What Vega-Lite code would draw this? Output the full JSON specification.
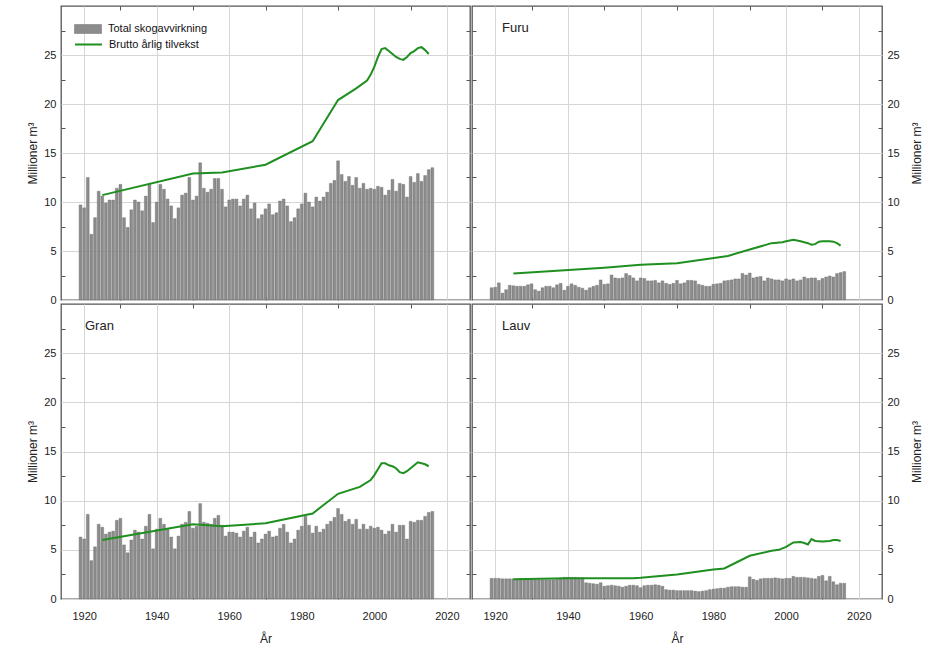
{
"$schema": "https://vega.github.io/schema/vega-lite/v6.json",
"padding": {"left": 26, "top": 4, "right": 4, "bottom": 4},
"config": {
 "font": "Liberation Sans",
 "view": {"stroke": "#555555", "strokeWidth": 1.3},
 "axis": {"labelFont": "Liberation Sans", "labelFontSize": 11, "labelColor": "#222222", "titleFont": "Liberation Sans", "titleFontSize": 12, "titleFontWeight": "normal", "titleColor": "#222222", "gridColor": "#d6d6d6", "gridWidth": 1, "domain": false, "ticks": true, "tickSize": -4, "tickColor": "#555555", "tickWidth": 1},
 "title": {"font": "Liberation Sans", "fontSize": 13, "fontWeight": "normal", "color": "#222222", "anchor": "start", "frame": "group", "baseline": "middle", "offset": -29}
},
"datasets": {
"bars": [
{"s":"Total","year":1919,"v":9.7},{"s":"Total","year":1920,"v":9.4},{"s":"Total","year":1921,"v":12.5},{"s":"Total","year":1922,"v":6.7},{"s":"Total","year":1923,"v":8.4},{"s":"Total","year":1924,"v":11.1},{"s":"Total","year":1925,"v":10.6},{"s":"Total","year":1926,"v":9.9},{"s":"Total","year":1927,"v":10.2},{"s":"Total","year":1928,"v":10.2},{"s":"Total","year":1929,"v":11.4},{"s":"Total","year":1930,"v":11.8},{"s":"Total","year":1931,"v":8.4},{"s":"Total","year":1932,"v":7.4},{"s":"Total","year":1933,"v":9.2},{"s":"Total","year":1934,"v":10.2},{"s":"Total","year":1935,"v":10.0},{"s":"Total","year":1936,"v":9.1},{"s":"Total","year":1937,"v":10.6},{"s":"Total","year":1938,"v":11.9},{"s":"Total","year":1939,"v":7.9},{"s":"Total","year":1940,"v":10.0},{"s":"Total","year":1941,"v":11.8},{"s":"Total","year":1942,"v":11.3},{"s":"Total","year":1943,"v":10.3},{"s":"Total","year":1944,"v":9.6},{"s":"Total","year":1945,"v":8.3},{"s":"Total","year":1946,"v":9.4},{"s":"Total","year":1947,"v":10.7},{"s":"Total","year":1948,"v":10.9},{"s":"Total","year":1949,"v":12.5},{"s":"Total","year":1950,"v":10.2},{"s":"Total","year":1951,"v":10.6},{"s":"Total","year":1952,"v":14.0},{"s":"Total","year":1953,"v":11.4},{"s":"Total","year":1954,"v":11.0},{"s":"Total","year":1955,"v":11.3},{"s":"Total","year":1956,"v":12.4},{"s":"Total","year":1957,"v":12.4},{"s":"Total","year":1958,"v":11.3},{"s":"Total","year":1959,"v":9.5},{"s":"Total","year":1960,"v":10.2},{"s":"Total","year":1961,"v":10.3},{"s":"Total","year":1962,"v":10.3},{"s":"Total","year":1963,"v":9.6},{"s":"Total","year":1964,"v":10.3},{"s":"Total","year":1965,"v":10.7},{"s":"Total","year":1966,"v":9.3},{"s":"Total","year":1967,"v":9.9},{"s":"Total","year":1968,"v":8.3},{"s":"Total","year":1969,"v":8.7},{"s":"Total","year":1970,"v":9.3},{"s":"Total","year":1971,"v":9.8},{"s":"Total","year":1972,"v":8.7},{"s":"Total","year":1973,"v":8.9},{"s":"Total","year":1974,"v":10.1},{"s":"Total","year":1975,"v":10.3},{"s":"Total","year":1976,"v":9.6},{"s":"Total","year":1977,"v":8.0},{"s":"Total","year":1978,"v":8.4},{"s":"Total","year":1979,"v":9.3},{"s":"Total","year":1980,"v":9.8},{"s":"Total","year":1981,"v":10.9},{"s":"Total","year":1982,"v":10.0},{"s":"Total","year":1983,"v":9.5},{"s":"Total","year":1984,"v":10.5},{"s":"Total","year":1985,"v":10.1},{"s":"Total","year":1986,"v":10.5},{"s":"Total","year":1987,"v":11.0},{"s":"Total","year":1988,"v":11.9},{"s":"Total","year":1989,"v":12.2},{"s":"Total","year":1990,"v":14.2},{"s":"Total","year":1991,"v":12.8},{"s":"Total","year":1992,"v":12.1},{"s":"Total","year":1993,"v":12.6},{"s":"Total","year":1994,"v":11.7},{"s":"Total","year":1995,"v":12.5},{"s":"Total","year":1996,"v":11.4},{"s":"Total","year":1997,"v":11.9},{"s":"Total","year":1998,"v":11.3},{"s":"Total","year":1999,"v":11.4},{"s":"Total","year":2000,"v":11.3},{"s":"Total","year":2001,"v":11.6},{"s":"Total","year":2002,"v":11.5},{"s":"Total","year":2003,"v":10.7},{"s":"Total","year":2004,"v":11.2},{"s":"Total","year":2005,"v":12.3},{"s":"Total","year":2006,"v":11.1},{"s":"Total","year":2007,"v":11.9},{"s":"Total","year":2008,"v":11.8},{"s":"Total","year":2009,"v":10.5},{"s":"Total","year":2010,"v":12.6},{"s":"Total","year":2011,"v":12.0},{"s":"Total","year":2012,"v":12.9},{"s":"Total","year":2013,"v":12.1},{"s":"Total","year":2014,"v":12.7},{"s":"Total","year":2015,"v":13.3},{"s":"Total","year":2016,"v":13.5},
{"s":"Gran","year":1919,"v":6.3},{"s":"Gran","year":1920,"v":6.1},{"s":"Gran","year":1921,"v":8.6},{"s":"Gran","year":1922,"v":3.9},{"s":"Gran","year":1923,"v":5.3},{"s":"Gran","year":1924,"v":7.6},{"s":"Gran","year":1925,"v":7.3},{"s":"Gran","year":1926,"v":6.6},{"s":"Gran","year":1927,"v":6.8},{"s":"Gran","year":1928,"v":6.9},{"s":"Gran","year":1929,"v":8.0},{"s":"Gran","year":1930,"v":8.2},{"s":"Gran","year":1931,"v":5.5},{"s":"Gran","year":1932,"v":4.7},{"s":"Gran","year":1933,"v":6.0},{"s":"Gran","year":1934,"v":7.0},{"s":"Gran","year":1935,"v":6.8},{"s":"Gran","year":1936,"v":6.1},{"s":"Gran","year":1937,"v":7.4},{"s":"Gran","year":1938,"v":8.6},{"s":"Gran","year":1939,"v":5.1},{"s":"Gran","year":1940,"v":7.1},{"s":"Gran","year":1941,"v":8.2},{"s":"Gran","year":1942,"v":7.6},{"s":"Gran","year":1943,"v":7.1},{"s":"Gran","year":1944,"v":6.3},{"s":"Gran","year":1945,"v":5.1},{"s":"Gran","year":1946,"v":6.4},{"s":"Gran","year":1947,"v":7.6},{"s":"Gran","year":1948,"v":7.8},{"s":"Gran","year":1949,"v":8.9},{"s":"Gran","year":1950,"v":7.2},{"s":"Gran","year":1951,"v":7.4},{"s":"Gran","year":1952,"v":9.7},{"s":"Gran","year":1953,"v":7.8},{"s":"Gran","year":1954,"v":7.7},{"s":"Gran","year":1955,"v":7.6},{"s":"Gran","year":1956,"v":8.2},{"s":"Gran","year":1957,"v":8.5},{"s":"Gran","year":1958,"v":7.5},{"s":"Gran","year":1959,"v":6.4},{"s":"Gran","year":1960,"v":6.8},{"s":"Gran","year":1961,"v":6.8},{"s":"Gran","year":1962,"v":6.7},{"s":"Gran","year":1963,"v":6.3},{"s":"Gran","year":1964,"v":6.9},{"s":"Gran","year":1965,"v":7.3},{"s":"Gran","year":1966,"v":6.3},{"s":"Gran","year":1967,"v":6.8},{"s":"Gran","year":1968,"v":5.7},{"s":"Gran","year":1969,"v":6.1},{"s":"Gran","year":1970,"v":6.6},{"s":"Gran","year":1971,"v":6.9},{"s":"Gran","year":1972,"v":6.3},{"s":"Gran","year":1973,"v":6.4},{"s":"Gran","year":1974,"v":7.2},{"s":"Gran","year":1975,"v":7.6},{"s":"Gran","year":1976,"v":6.8},{"s":"Gran","year":1977,"v":5.7},{"s":"Gran","year":1978,"v":6.1},{"s":"Gran","year":1979,"v":7.0},{"s":"Gran","year":1980,"v":7.4},{"s":"Gran","year":1981,"v":8.4},{"s":"Gran","year":1982,"v":7.5},{"s":"Gran","year":1983,"v":6.7},{"s":"Gran","year":1984,"v":7.4},{"s":"Gran","year":1985,"v":6.8},{"s":"Gran","year":1986,"v":7.1},{"s":"Gran","year":1987,"v":7.6},{"s":"Gran","year":1988,"v":7.9},{"s":"Gran","year":1989,"v":8.3},{"s":"Gran","year":1990,"v":9.2},{"s":"Gran","year":1991,"v":8.6},{"s":"Gran","year":1992,"v":7.9},{"s":"Gran","year":1993,"v":8.1},{"s":"Gran","year":1994,"v":7.6},{"s":"Gran","year":1995,"v":8.1},{"s":"Gran","year":1996,"v":7.1},{"s":"Gran","year":1997,"v":7.6},{"s":"Gran","year":1998,"v":7.1},{"s":"Gran","year":1999,"v":7.4},{"s":"Gran","year":2000,"v":7.2},{"s":"Gran","year":2001,"v":7.3},{"s":"Gran","year":2002,"v":7.0},{"s":"Gran","year":2003,"v":6.6},{"s":"Gran","year":2004,"v":6.9},{"s":"Gran","year":2005,"v":7.6},{"s":"Gran","year":2006,"v":6.8},{"s":"Gran","year":2007,"v":7.5},{"s":"Gran","year":2008,"v":7.5},{"s":"Gran","year":2009,"v":6.1},{"s":"Gran","year":2010,"v":7.9},{"s":"Gran","year":2011,"v":7.8},{"s":"Gran","year":2012,"v":8.0},{"s":"Gran","year":2013,"v":8.0},{"s":"Gran","year":2014,"v":8.4},{"s":"Gran","year":2015,"v":8.8},{"s":"Gran","year":2016,"v":8.9},
{"s":"Furu","year":1919,"v":1.25},{"s":"Furu","year":1920,"v":1.3},{"s":"Furu","year":1921,"v":1.75},{"s":"Furu","year":1922,"v":0.7},{"s":"Furu","year":1923,"v":1.05},{"s":"Furu","year":1924,"v":1.5},{"s":"Furu","year":1925,"v":1.45},{"s":"Furu","year":1926,"v":1.4},{"s":"Furu","year":1927,"v":1.4},{"s":"Furu","year":1928,"v":1.4},{"s":"Furu","year":1929,"v":1.55},{"s":"Furu","year":1930,"v":1.65},{"s":"Furu","year":1931,"v":1.05},{"s":"Furu","year":1932,"v":0.9},{"s":"Furu","year":1933,"v":1.25},{"s":"Furu","year":1934,"v":1.4},{"s":"Furu","year":1935,"v":1.4},{"s":"Furu","year":1936,"v":1.25},{"s":"Furu","year":1937,"v":1.55},{"s":"Furu","year":1938,"v":1.7},{"s":"Furu","year":1939,"v":1.0},{"s":"Furu","year":1940,"v":1.4},{"s":"Furu","year":1941,"v":1.65},{"s":"Furu","year":1942,"v":1.5},{"s":"Furu","year":1943,"v":1.3},{"s":"Furu","year":1944,"v":1.2},{"s":"Furu","year":1945,"v":1.0},{"s":"Furu","year":1946,"v":1.25},{"s":"Furu","year":1947,"v":1.4},{"s":"Furu","year":1948,"v":1.5},{"s":"Furu","year":1949,"v":2.05},{"s":"Furu","year":1950,"v":1.6},{"s":"Furu","year":1951,"v":1.65},{"s":"Furu","year":1952,"v":2.55},{"s":"Furu","year":1953,"v":2.25},{"s":"Furu","year":1954,"v":2.2},{"s":"Furu","year":1955,"v":2.25},{"s":"Furu","year":1956,"v":2.7},{"s":"Furu","year":1957,"v":2.5},{"s":"Furu","year":1958,"v":2.25},{"s":"Furu","year":1959,"v":1.95},{"s":"Furu","year":1960,"v":2.25},{"s":"Furu","year":1961,"v":2.2},{"s":"Furu","year":1962,"v":1.95},{"s":"Furu","year":1963,"v":1.95},{"s":"Furu","year":1964,"v":2.0},{"s":"Furu","year":1965,"v":1.75},{"s":"Furu","year":1966,"v":1.95},{"s":"Furu","year":1967,"v":1.7},{"s":"Furu","year":1968,"v":1.6},{"s":"Furu","year":1969,"v":1.7},{"s":"Furu","year":1970,"v":2.0},{"s":"Furu","year":1971,"v":1.65},{"s":"Furu","year":1972,"v":1.75},{"s":"Furu","year":1973,"v":2.0},{"s":"Furu","year":1974,"v":2.0},{"s":"Furu","year":1975,"v":1.95},{"s":"Furu","year":1976,"v":1.6},{"s":"Furu","year":1977,"v":1.5},{"s":"Furu","year":1978,"v":1.4},{"s":"Furu","year":1979,"v":1.4},{"s":"Furu","year":1980,"v":1.6},{"s":"Furu","year":1981,"v":1.65},{"s":"Furu","year":1982,"v":1.7},{"s":"Furu","year":1983,"v":1.95},{"s":"Furu","year":1984,"v":2.0},{"s":"Furu","year":1985,"v":2.05},{"s":"Furu","year":1986,"v":2.15},{"s":"Furu","year":1987,"v":2.15},{"s":"Furu","year":1988,"v":2.7},{"s":"Furu","year":1989,"v":2.55},{"s":"Furu","year":1990,"v":2.75},{"s":"Furu","year":1991,"v":2.25},{"s":"Furu","year":1992,"v":2.35},{"s":"Furu","year":1993,"v":2.4},{"s":"Furu","year":1994,"v":1.95},{"s":"Furu","year":1995,"v":2.25},{"s":"Furu","year":1996,"v":2.15},{"s":"Furu","year":1997,"v":2.05},{"s":"Furu","year":1998,"v":2.05},{"s":"Furu","year":1999,"v":1.95},{"s":"Furu","year":2000,"v":2.15},{"s":"Furu","year":2001,"v":2.05},{"s":"Furu","year":2002,"v":2.15},{"s":"Furu","year":2003,"v":1.95},{"s":"Furu","year":2004,"v":2.05},{"s":"Furu","year":2005,"v":2.35},{"s":"Furu","year":2006,"v":2.2},{"s":"Furu","year":2007,"v":2.25},{"s":"Furu","year":2008,"v":2.25},{"s":"Furu","year":2009,"v":2.0},{"s":"Furu","year":2010,"v":2.2},{"s":"Furu","year":2011,"v":2.35},{"s":"Furu","year":2012,"v":2.45},{"s":"Furu","year":2013,"v":2.35},{"s":"Furu","year":2014,"v":2.7},{"s":"Furu","year":2015,"v":2.8},{"s":"Furu","year":2016,"v":2.9},
{"s":"Lauv","year":1919,"v":2.1},{"s":"Lauv","year":1920,"v":2.1},{"s":"Lauv","year":1921,"v":2.1},{"s":"Lauv","year":1922,"v":2.05},{"s":"Lauv","year":1923,"v":2.05},{"s":"Lauv","year":1924,"v":2.05},{"s":"Lauv","year":1925,"v":2.05},{"s":"Lauv","year":1926,"v":2.0},{"s":"Lauv","year":1927,"v":2.0},{"s":"Lauv","year":1928,"v":2.0},{"s":"Lauv","year":1929,"v":2.0},{"s":"Lauv","year":1930,"v":2.0},{"s":"Lauv","year":1931,"v":1.95},{"s":"Lauv","year":1932,"v":1.95},{"s":"Lauv","year":1933,"v":1.95},{"s":"Lauv","year":1934,"v":1.95},{"s":"Lauv","year":1935,"v":1.95},{"s":"Lauv","year":1936,"v":1.95},{"s":"Lauv","year":1937,"v":2.0},{"s":"Lauv","year":1938,"v":2.15},{"s":"Lauv","year":1939,"v":2.2},{"s":"Lauv","year":1940,"v":2.2},{"s":"Lauv","year":1941,"v":2.2},{"s":"Lauv","year":1942,"v":2.2},{"s":"Lauv","year":1943,"v":2.15},{"s":"Lauv","year":1944,"v":2.15},{"s":"Lauv","year":1945,"v":1.65},{"s":"Lauv","year":1946,"v":1.6},{"s":"Lauv","year":1947,"v":1.55},{"s":"Lauv","year":1948,"v":1.5},{"s":"Lauv","year":1949,"v":1.65},{"s":"Lauv","year":1950,"v":1.3},{"s":"Lauv","year":1951,"v":1.35},{"s":"Lauv","year":1952,"v":1.4},{"s":"Lauv","year":1953,"v":1.35},{"s":"Lauv","year":1954,"v":1.3},{"s":"Lauv","year":1955,"v":1.2},{"s":"Lauv","year":1956,"v":1.3},{"s":"Lauv","year":1957,"v":1.4},{"s":"Lauv","year":1958,"v":1.4},{"s":"Lauv","year":1959,"v":1.35},{"s":"Lauv","year":1960,"v":1.15},{"s":"Lauv","year":1961,"v":1.35},{"s":"Lauv","year":1962,"v":1.4},{"s":"Lauv","year":1963,"v":1.4},{"s":"Lauv","year":1964,"v":1.45},{"s":"Lauv","year":1965,"v":1.4},{"s":"Lauv","year":1966,"v":1.3},{"s":"Lauv","year":1967,"v":0.95},{"s":"Lauv","year":1968,"v":0.9},{"s":"Lauv","year":1969,"v":0.9},{"s":"Lauv","year":1970,"v":0.85},{"s":"Lauv","year":1971,"v":0.85},{"s":"Lauv","year":1972,"v":0.85},{"s":"Lauv","year":1973,"v":0.85},{"s":"Lauv","year":1974,"v":0.85},{"s":"Lauv","year":1975,"v":0.8},{"s":"Lauv","year":1976,"v":0.75},{"s":"Lauv","year":1977,"v":0.8},{"s":"Lauv","year":1978,"v":0.85},{"s":"Lauv","year":1979,"v":0.95},{"s":"Lauv","year":1980,"v":1.0},{"s":"Lauv","year":1981,"v":1.05},{"s":"Lauv","year":1982,"v":1.1},{"s":"Lauv","year":1983,"v":1.1},{"s":"Lauv","year":1984,"v":1.2},{"s":"Lauv","year":1985,"v":1.25},{"s":"Lauv","year":1986,"v":1.25},{"s":"Lauv","year":1987,"v":1.25},{"s":"Lauv","year":1988,"v":1.2},{"s":"Lauv","year":1989,"v":1.2},{"s":"Lauv","year":1990,"v":2.25},{"s":"Lauv","year":1991,"v":2.0},{"s":"Lauv","year":1992,"v":1.9},{"s":"Lauv","year":1993,"v":2.05},{"s":"Lauv","year":1994,"v":2.1},{"s":"Lauv","year":1995,"v":2.1},{"s":"Lauv","year":1996,"v":2.1},{"s":"Lauv","year":1997,"v":2.15},{"s":"Lauv","year":1998,"v":2.1},{"s":"Lauv","year":1999,"v":2.05},{"s":"Lauv","year":2000,"v":2.1},{"s":"Lauv","year":2001,"v":2.1},{"s":"Lauv","year":2002,"v":2.3},{"s":"Lauv","year":2003,"v":2.2},{"s":"Lauv","year":2004,"v":2.2},{"s":"Lauv","year":2005,"v":2.2},{"s":"Lauv","year":2006,"v":2.15},{"s":"Lauv","year":2007,"v":2.1},{"s":"Lauv","year":2008,"v":2.05},{"s":"Lauv","year":2009,"v":2.3},{"s":"Lauv","year":2010,"v":2.4},{"s":"Lauv","year":2011,"v":1.85},{"s":"Lauv","year":2012,"v":2.3},{"s":"Lauv","year":2013,"v":1.75},{"s":"Lauv","year":2014,"v":1.45},{"s":"Lauv","year":2015,"v":1.6},{"s":"Lauv","year":2016,"v":1.6}
],
"lines": [
{"s":"Total","year":1925,"v":10.7},{"s":"Total","year":1950,"v":12.9},{"s":"Total","year":1958,"v":13.0},{"s":"Total","year":1970,"v":13.8},{"s":"Total","year":1983,"v":16.2},{"s":"Total","year":1990,"v":20.4},{"s":"Total","year":1995,"v":21.6},{"s":"Total","year":1998,"v":22.4},{"s":"Total","year":1999,"v":23.0},{"s":"Total","year":2000,"v":23.8},{"s":"Total","year":2001,"v":24.8},{"s":"Total","year":2002,"v":25.6},{"s":"Total","year":2003,"v":25.7},{"s":"Total","year":2004,"v":25.4},{"s":"Total","year":2005,"v":25.1},{"s":"Total","year":2006,"v":24.8},{"s":"Total","year":2007,"v":24.6},{"s":"Total","year":2008,"v":24.5},{"s":"Total","year":2009,"v":24.8},{"s":"Total","year":2010,"v":25.2},{"s":"Total","year":2011,"v":25.4},{"s":"Total","year":2012,"v":25.7},{"s":"Total","year":2013,"v":25.8},{"s":"Total","year":2014,"v":25.5},{"s":"Total","year":2015,"v":25.1},
{"s":"Gran","year":1925,"v":6.0},{"s":"Gran","year":1950,"v":7.6},{"s":"Gran","year":1958,"v":7.4},{"s":"Gran","year":1970,"v":7.7},{"s":"Gran","year":1983,"v":8.7},{"s":"Gran","year":1990,"v":10.7},{"s":"Gran","year":1996,"v":11.4},{"s":"Gran","year":1999,"v":12.1},{"s":"Gran","year":2000,"v":12.6},{"s":"Gran","year":2001,"v":13.2},{"s":"Gran","year":2002,"v":13.8},{"s":"Gran","year":2003,"v":13.8},{"s":"Gran","year":2004,"v":13.6},{"s":"Gran","year":2005,"v":13.5},{"s":"Gran","year":2006,"v":13.3},{"s":"Gran","year":2007,"v":12.9},{"s":"Gran","year":2008,"v":12.8},{"s":"Gran","year":2009,"v":13.0},{"s":"Gran","year":2010,"v":13.3},{"s":"Gran","year":2011,"v":13.6},{"s":"Gran","year":2012,"v":13.9},{"s":"Gran","year":2013,"v":13.8},{"s":"Gran","year":2014,"v":13.7},{"s":"Gran","year":2015,"v":13.5},
{"s":"Furu","year":1925,"v":2.7},{"s":"Furu","year":1950,"v":3.3},{"s":"Furu","year":1960,"v":3.6},{"s":"Furu","year":1970,"v":3.75},{"s":"Furu","year":1984,"v":4.5},{"s":"Furu","year":1990,"v":5.15},{"s":"Furu","year":1996,"v":5.8},{"s":"Furu","year":1999,"v":5.9},{"s":"Furu","year":2000,"v":6.0},{"s":"Furu","year":2002,"v":6.15},{"s":"Furu","year":2004,"v":6.0},{"s":"Furu","year":2006,"v":5.8},{"s":"Furu","year":2007,"v":5.65},{"s":"Furu","year":2008,"v":5.7},{"s":"Furu","year":2009,"v":5.95},{"s":"Furu","year":2010,"v":6.0},{"s":"Furu","year":2012,"v":6.0},{"s":"Furu","year":2013,"v":5.95},{"s":"Furu","year":2014,"v":5.8},{"s":"Furu","year":2015,"v":5.55},
{"s":"Lauv","year":1925,"v":2.0},{"s":"Lauv","year":1940,"v":2.1},{"s":"Lauv","year":1958,"v":2.1},{"s":"Lauv","year":1960,"v":2.15},{"s":"Lauv","year":1970,"v":2.5},{"s":"Lauv","year":1980,"v":3.0},{"s":"Lauv","year":1983,"v":3.1},{"s":"Lauv","year":1990,"v":4.4},{"s":"Lauv","year":1996,"v":4.9},{"s":"Lauv","year":1998,"v":5.0},{"s":"Lauv","year":2000,"v":5.3},{"s":"Lauv","year":2002,"v":5.75},{"s":"Lauv","year":2004,"v":5.8},{"s":"Lauv","year":2005,"v":5.7},{"s":"Lauv","year":2006,"v":5.55},{"s":"Lauv","year":2007,"v":6.1},{"s":"Lauv","year":2008,"v":5.9},{"s":"Lauv","year":2010,"v":5.85},{"s":"Lauv","year":2012,"v":5.9},{"s":"Lauv","year":2013,"v":6.0},{"s":"Lauv","year":2014,"v":6.0},{"s":"Lauv","year":2015,"v":5.9}
]
},
"columns": 2,
"spacing": {"row": 4, "column": 2},
"bounds": "flush",
"concat": [
 {"width": 409, "height": 294,
  "resolve": {"axis": {"x": "independent", "y": "independent"}},
  "layer": [
   {"data": {"name": "bars"}, "transform": [{"filter": "datum.s === 'Total'"}],
    "mark": {"type": "bar", "size": 2.8, "stroke": "#6a6a6a", "strokeWidth": 0.4},
    "encoding": {
     "x": {"field": "year", "type": "quantitative", "scale": {"domain": [1915, 2025], "nice": false, "zero": false}, "axis": {"values": [1920,1930,1940,1950,1960,1970,1980,1990,2000,2010,2020], "labels": false, "title": null, "grid": true, "gridOpacity": {"condition": {"test": "datum.value % 20 === 0", "value": 1}, "value": 0}, "tickOpacity": {"condition": {"test": "datum.value % 20 === 0", "value": 0}, "value": 1}}},
     "y": {"field": "v", "type": "quantitative", "scale": {"domain": [0, 30], "nice": false}, "axis": {"values": [0,2.5,5,7.5,10,12.5,15,17.5,20,22.5,25,27.5], "labelExpr": "datum.value % 5 === 0 ? datum.label : ''", "title": "Millioner m³", "grid": true, "gridOpacity": {"condition": {"test": "datum.value % 5 === 0", "value": 1}, "value": 0}, "tickOpacity": {"condition": {"test": "datum.value % 5 === 0", "value": 0}, "value": 1}, "labelPadding": 9, "titlePadding": 4}},
     "fill": {"datum": "Total skogavvirkning", "scale": {"domain": ["Total skogavvirkning"], "range": ["#8c8c8c"]},
      "legend": {"title": null, "orient": "none", "legendX": 13, "legendY": 9, "labelFontSize": 11, "labelFont": "Liberation Sans", "labelColor": "#111111", "symbolSize": 729, "symbolType": "M-1,-0.33H1V0.33H-1Z", "symbolStrokeColor": "#6a6a6a", "symbolStrokeWidth": 0.5, "symbolOpacity": 1, "labelOffset": 6, "padding": 0}}}},
   {"data": {"name": "lines"}, "transform": [{"filter": "datum.s === 'Total'"}],
    "mark": {"type": "line", "strokeWidth": 2},
    "encoding": {
     "x": {"field": "year", "type": "quantitative", "axis": {"orient": "top", "values": [1930,1950,1970,1990,2010], "labels": false, "title": null, "grid": false}},
     "y": {"field": "v", "type": "quantitative", "axis": {"orient": "right", "values": [2.5,7.5,12.5,17.5,22.5,27.5], "labels": false, "title": null, "grid": false}},
     "stroke": {"datum": "Brutto årlig tilvekst", "scale": {"domain": ["Brutto årlig tilvekst"], "range": ["#1f8f1f"]},
      "legend": {"title": null, "orient": "none", "legendX": 13, "legendY": 24, "labelFontSize": 11, "labelFont": "Liberation Sans", "labelColor": "#111111", "symbolSize": 729, "symbolType": "stroke", "symbolStrokeWidth": 2, "symbolOpacity": 1, "labelOffset": 6, "padding": 0}}}}
  ]},
 {"width": 410, "height": 294,
  "title": {"text": "Furu", "dx": 30},
  "resolve": {"axis": {"x": "independent", "y": "independent"}},
  "layer": [
   {"data": {"name": "bars"}, "transform": [{"filter": "datum.s === 'Furu'"}],
    "mark": {"type": "bar", "size": 2.8, "fill": "#8c8c8c", "stroke": "#6a6a6a", "strokeWidth": 0.4},
    "encoding": {
     "x": {"field": "year", "type": "quantitative", "scale": {"domain": [1915, 2025], "nice": false, "zero": false}, "axis": {"values": [1920,1930,1940,1950,1960,1970,1980,1990,2000,2010,2020], "labels": false, "title": null, "grid": true, "gridOpacity": {"condition": {"test": "datum.value % 20 === 0", "value": 1}, "value": 0}, "tickOpacity": {"condition": {"test": "datum.value % 20 === 0", "value": 0}, "value": 1}}},
     "y": {"field": "v", "type": "quantitative", "scale": {"domain": [0, 30], "nice": false}, "axis": {"orient": "right", "values": [0,2.5,5,7.5,10,12.5,15,17.5,20,22.5,25,27.5], "labelExpr": "datum.value % 5 === 0 ? datum.label : ''", "title": "Millioner m³", "titleAngle": 270, "grid": true, "gridOpacity": {"condition": {"test": "datum.value % 5 === 0", "value": 1}, "value": 0}, "tickOpacity": {"condition": {"test": "datum.value % 5 === 0", "value": 0}, "value": 1}, "labelPadding": 9, "titlePadding": 24}}}},
   {"data": {"name": "lines"}, "transform": [{"filter": "datum.s === 'Furu'"}],
    "mark": {"type": "line", "strokeWidth": 2, "color": "#1f8f1f"},
    "encoding": {
     "x": {"field": "year", "type": "quantitative", "axis": {"orient": "top", "values": [1930,1950,1970,1990,2010], "labels": false, "title": null, "grid": false}},
     "y": {"field": "v", "type": "quantitative", "axis": {"orient": "left", "values": [2.5,7.5,12.5,17.5,22.5,27.5], "labels": false, "title": null, "grid": false}}}}
  ]},
 {"width": 409, "height": 295,
  "title": {"text": "Gran", "dx": 24},
  "resolve": {"axis": {"x": "independent", "y": "independent"}},
  "layer": [
   {"data": {"name": "bars"}, "transform": [{"filter": "datum.s === 'Gran'"}],
    "mark": {"type": "bar", "size": 2.8, "fill": "#8c8c8c", "stroke": "#6a6a6a", "strokeWidth": 0.4},
    "encoding": {
     "x": {"field": "year", "type": "quantitative", "scale": {"domain": [1915, 2025], "nice": false, "zero": false}, "axis": {"values": [1920,1930,1940,1950,1960,1970,1980,1990,2000,2010,2020], "labelExpr": "datum.value % 20 === 0 ? datum.label : ''", "format": "d", "title": "År", "grid": true, "gridOpacity": {"condition": {"test": "datum.value % 20 === 0", "value": 1}, "value": 0}, "tickOpacity": {"condition": {"test": "datum.value % 20 === 0", "value": 0}, "value": 1}, "labelPadding": 15, "titlePadding": 12}},
     "y": {"field": "v", "type": "quantitative", "scale": {"domain": [0, 30], "nice": false}, "axis": {"values": [0,2.5,5,7.5,10,12.5,15,17.5,20,22.5,25,27.5], "labelExpr": "datum.value % 5 === 0 ? datum.label : ''", "title": "Millioner m³", "grid": true, "gridOpacity": {"condition": {"test": "datum.value % 5 === 0", "value": 1}, "value": 0}, "tickOpacity": {"condition": {"test": "datum.value % 5 === 0", "value": 0}, "value": 1}, "labelPadding": 9, "titlePadding": 4}}}},
   {"data": {"name": "lines"}, "transform": [{"filter": "datum.s === 'Gran'"}],
    "mark": {"type": "line", "strokeWidth": 2, "color": "#1f8f1f"},
    "encoding": {
     "x": {"field": "year", "type": "quantitative", "axis": {"orient": "top", "values": [1930,1950,1970,1990,2010], "labels": false, "title": null, "grid": false}},
     "y": {"field": "v", "type": "quantitative", "axis": {"orient": "right", "values": [2.5,7.5,12.5,17.5,22.5,27.5], "labels": false, "title": null, "grid": false}}}}
  ]},
 {"width": 410, "height": 295,
  "title": {"text": "Lauv", "dx": 30},
  "resolve": {"axis": {"x": "independent", "y": "independent"}},
  "layer": [
   {"data": {"name": "bars"}, "transform": [{"filter": "datum.s === 'Lauv'"}],
    "mark": {"type": "bar", "size": 2.8, "fill": "#8c8c8c", "stroke": "#6a6a6a", "strokeWidth": 0.4},
    "encoding": {
     "x": {"field": "year", "type": "quantitative", "scale": {"domain": [1915, 2025], "nice": false, "zero": false}, "axis": {"values": [1920,1930,1940,1950,1960,1970,1980,1990,2000,2010,2020], "labelExpr": "datum.value % 20 === 0 ? datum.label : ''", "format": "d", "title": "År", "grid": true, "gridOpacity": {"condition": {"test": "datum.value % 20 === 0", "value": 1}, "value": 0}, "tickOpacity": {"condition": {"test": "datum.value % 20 === 0", "value": 0}, "value": 1}, "labelPadding": 15, "titlePadding": 12}},
     "y": {"field": "v", "type": "quantitative", "scale": {"domain": [0, 30], "nice": false}, "axis": {"orient": "right", "values": [0,2.5,5,7.5,10,12.5,15,17.5,20,22.5,25,27.5], "labelExpr": "datum.value % 5 === 0 ? datum.label : ''", "title": "Millioner m³", "titleAngle": 270, "grid": true, "gridOpacity": {"condition": {"test": "datum.value % 5 === 0", "value": 1}, "value": 0}, "tickOpacity": {"condition": {"test": "datum.value % 5 === 0", "value": 0}, "value": 1}, "labelPadding": 9, "titlePadding": 24}}}},
   {"data": {"name": "lines"}, "transform": [{"filter": "datum.s === 'Lauv'"}],
    "mark": {"type": "line", "strokeWidth": 2, "color": "#1f8f1f"},
    "encoding": {
     "x": {"field": "year", "type": "quantitative", "axis": {"orient": "top", "values": [1930,1950,1970,1990,2010], "labels": false, "title": null, "grid": false}},
     "y": {"field": "v", "type": "quantitative", "axis": {"orient": "left", "values": [2.5,7.5,12.5,17.5,22.5,27.5], "labels": false, "title": null, "grid": false}}}}
  ]}
]
}
